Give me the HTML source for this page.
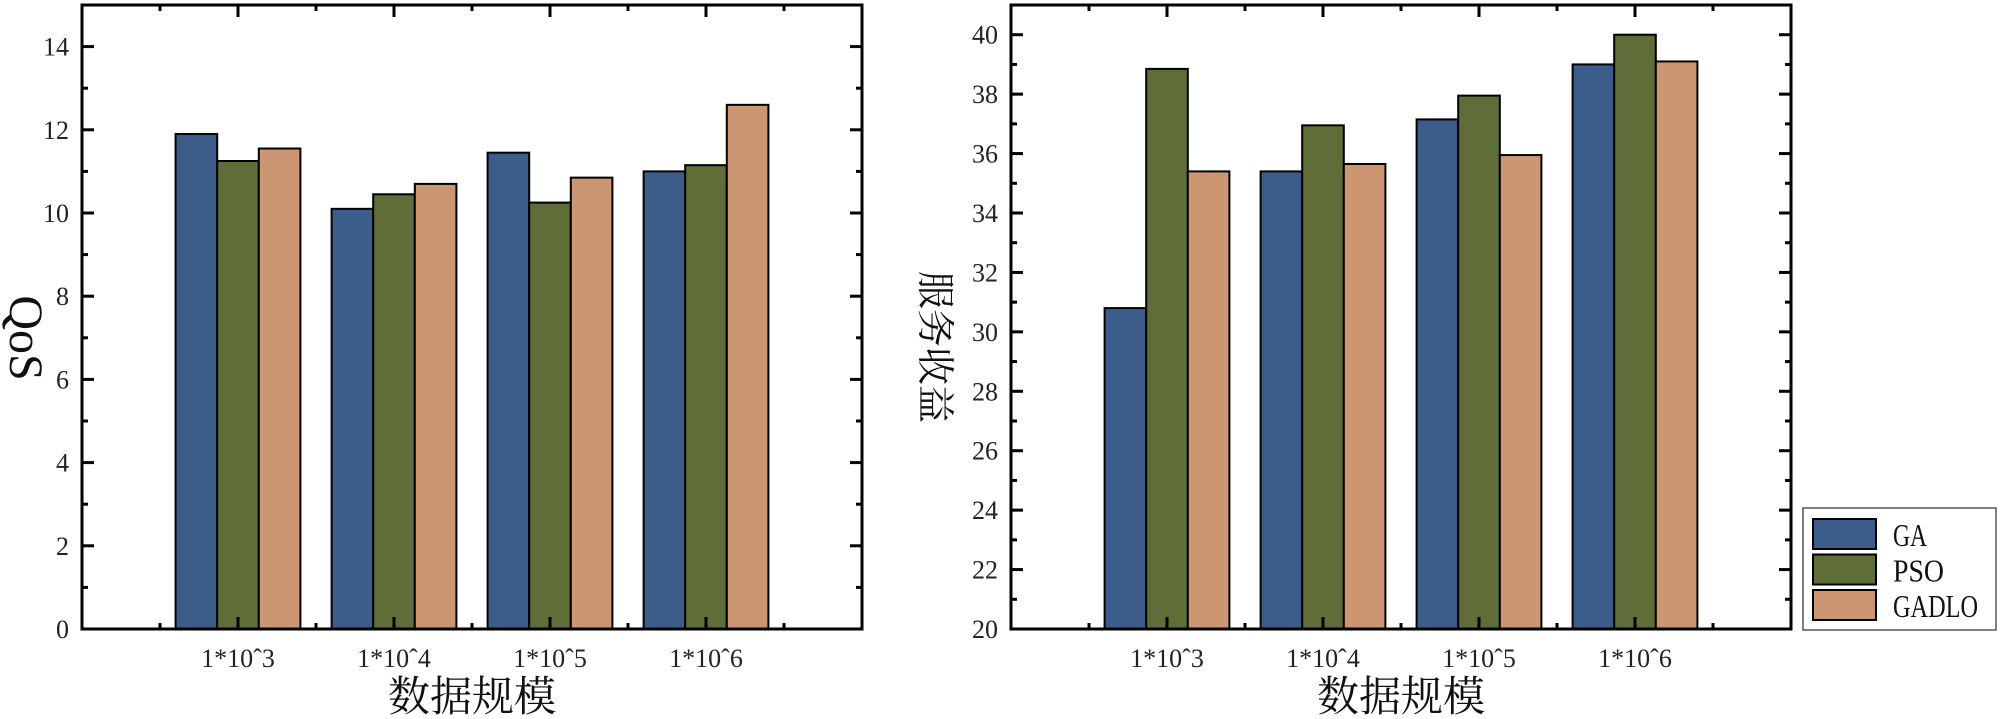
<!DOCTYPE html>
<html><head><meta charset="utf-8">
<style>
html,body{margin:0;padding:0;background:#fff;}
svg{display:block;font-family:"Liberation Serif","Noto Serif CJK SC",serif;}
</style></head>
<body>
<svg id="chart" width="2000" height="719" viewBox="0 0 2000 719" xmlns="http://www.w3.org/2000/svg"></svg>
<script>
const categories = ["1*10^3","1*10^4","1*10^5","1*10^6"];
const seriesNames = ["GA","PSO","GADLO"];
const qosGA = [11.9, 10.1, 11.45, 11.0];
const qosPSO = [11.25, 10.45, 10.25, 11.15];
const qosGADLO = [11.55, 10.7, 10.85, 12.6];
const revGA = [30.8, 35.4, 37.15, 39.0];
const revPSO = [38.85, 36.95, 37.95, 40.0];
const revGADLO = [35.4, 35.65, 35.95, 39.1];
const qosTicks = [0,2,4,6,8,10,12,14];
const revTicks = [20,22,24,26,28,30,32,34,36,38,40];
const colors = ["#3c5d8a","#5f6d39","#cc9673"];

const NS = "http://www.w3.org/2000/svg";
const svg = document.getElementById('chart');
function mk(tag, attrs, parent){
  const e = document.createElementNS(NS, tag);
  for (const k in attrs) e.setAttribute(k, attrs[k]);
  (parent||svg).appendChild(e);
  return e;
}

function panel(name, x0, series, ymin, ymax, ticks, ytitle, vertTitle){
  const top = 5, bottom = 629, w = 780;
  const g = mk('g', {});
  
  
  const sx = v => x0 + v * w / 5;
  const sy = v => bottom - (v - ymin) * (bottom - top) / (ymax - ymin);
  const bw = w / 5 * 0.8 / 3;
  series.forEach((vals, si) => {
    vals.forEach((v, ci) => {
      const bx = sx(ci + 1) - 1.5 * bw + si * bw;
      const r = mk('rect', {x: bx, y: sy(v), width: bw, height: bottom - sy(v), fill: colors[si], stroke: '#000', 'stroke-width': 2}, g);
      
      
    });
  });
  const fr = mk('rect', {x: x0, y: top, width: w, height: bottom - top, fill: 'none', stroke: '#000', 'stroke-width': 3}, g);
  
  
  const step = ticks[1] - ticks[0];
  for (let v = ymin; v <= ymax + 1e-9; v += step / 2) {
    const major = Math.abs(((v - ymin) / step) - Math.round((v - ymin) / step)) < 1e-6;
    const len = major ? 12 : 6;
    const y = sy(v);
    if (y < top + 1) continue;
    mk('line', {x1: x0, x2: x0 + len, y1: y, y2: y, stroke: '#000', 'stroke-width': 3}, g);
    mk('line', {x1: x0 + w, x2: x0 + w - len, y1: y, y2: y, stroke: '#000', 'stroke-width': 3}, g);
  }
  ticks.forEach(t => {
    const tl = mk('text', {x: x0 - 13, y: sy(t) + 9, 'text-anchor': 'end', 'font-size': 26, fill: '#222'}, g);
    tl.textContent = t;
    
    
  });
  for (let i = 1; i <= 9; i++) {
    const p = i / 2;
    const major = i % 2 === 0;
    const len = major ? 12 : 6;
    const x = sx(p);
    mk('line', {x1: x, x2: x, y1: bottom, y2: bottom - len, stroke: '#000', 'stroke-width': 3}, g);
    mk('line', {x1: x, x2: x, y1: top, y2: top + len, stroke: '#000', 'stroke-width': 3}, g);
  }
  categories.forEach((c, i) => {
    const tl = mk('text', {x: sx(i + 1), y: 667, 'text-anchor': 'middle', 'font-size': 26, fill: '#222'}, g);
    tl.textContent = c.replace('^', 'ˆ');
    
    
  });
  const xt = mk('text', {x: x0 + w / 2, y: 711, 'text-anchor': 'middle', 'font-size': 42, fill: '#111'}, g);
  xt.textContent = '数据规模';
  
  
  const cy = (top + bottom) / 2 + 40;
  let yt;
  if (vertTitle) {
    yt = mk('text', {x: 0, y: 0, 'text-anchor': 'middle', 'font-size': 38, fill: '#111', transform: 'translate(922,' + (cy - 10) + ') rotate(90)'}, g);
  } else {
    yt = mk('text', {x: 0, y: 0, 'text-anchor': 'middle', 'font-size': 48, fill: '#111', transform: 'translate(10,338) rotate(90)'}, g);
  }
  yt.textContent = ytitle;
  
  
}

panel('qos-panel', 82, [qosGA, qosPSO, qosGADLO], 0, 15, qosTicks, 'QoS', false);
panel('revenue-panel', 1011, [revGA, revPSO, revGADLO], 20, 41, revTicks, '服务收益', true);

const lg = mk('g', {});


mk('rect', {x: 1803, y: 508, width: 193, height: 122, fill: '#fff', stroke: '#555', 'stroke-width': 1.5}, lg);
seriesNames.forEach((n, i) => {
  const y = 519 + i * 35.5;
  const sw = mk('rect', {x: 1813, y: y, width: 63, height: 30, fill: colors[i], stroke: '#000', 'stroke-width': 2}, lg);
  
  
  const t = mk('text', {x: 1893, y: y + 27, 'font-size': 32, fill: '#111', textLength: n.length * 17, lengthAdjust: 'spacingAndGlyphs'}, lg);
  t.textContent = n;
  
  
});
</script>
</body></html>
